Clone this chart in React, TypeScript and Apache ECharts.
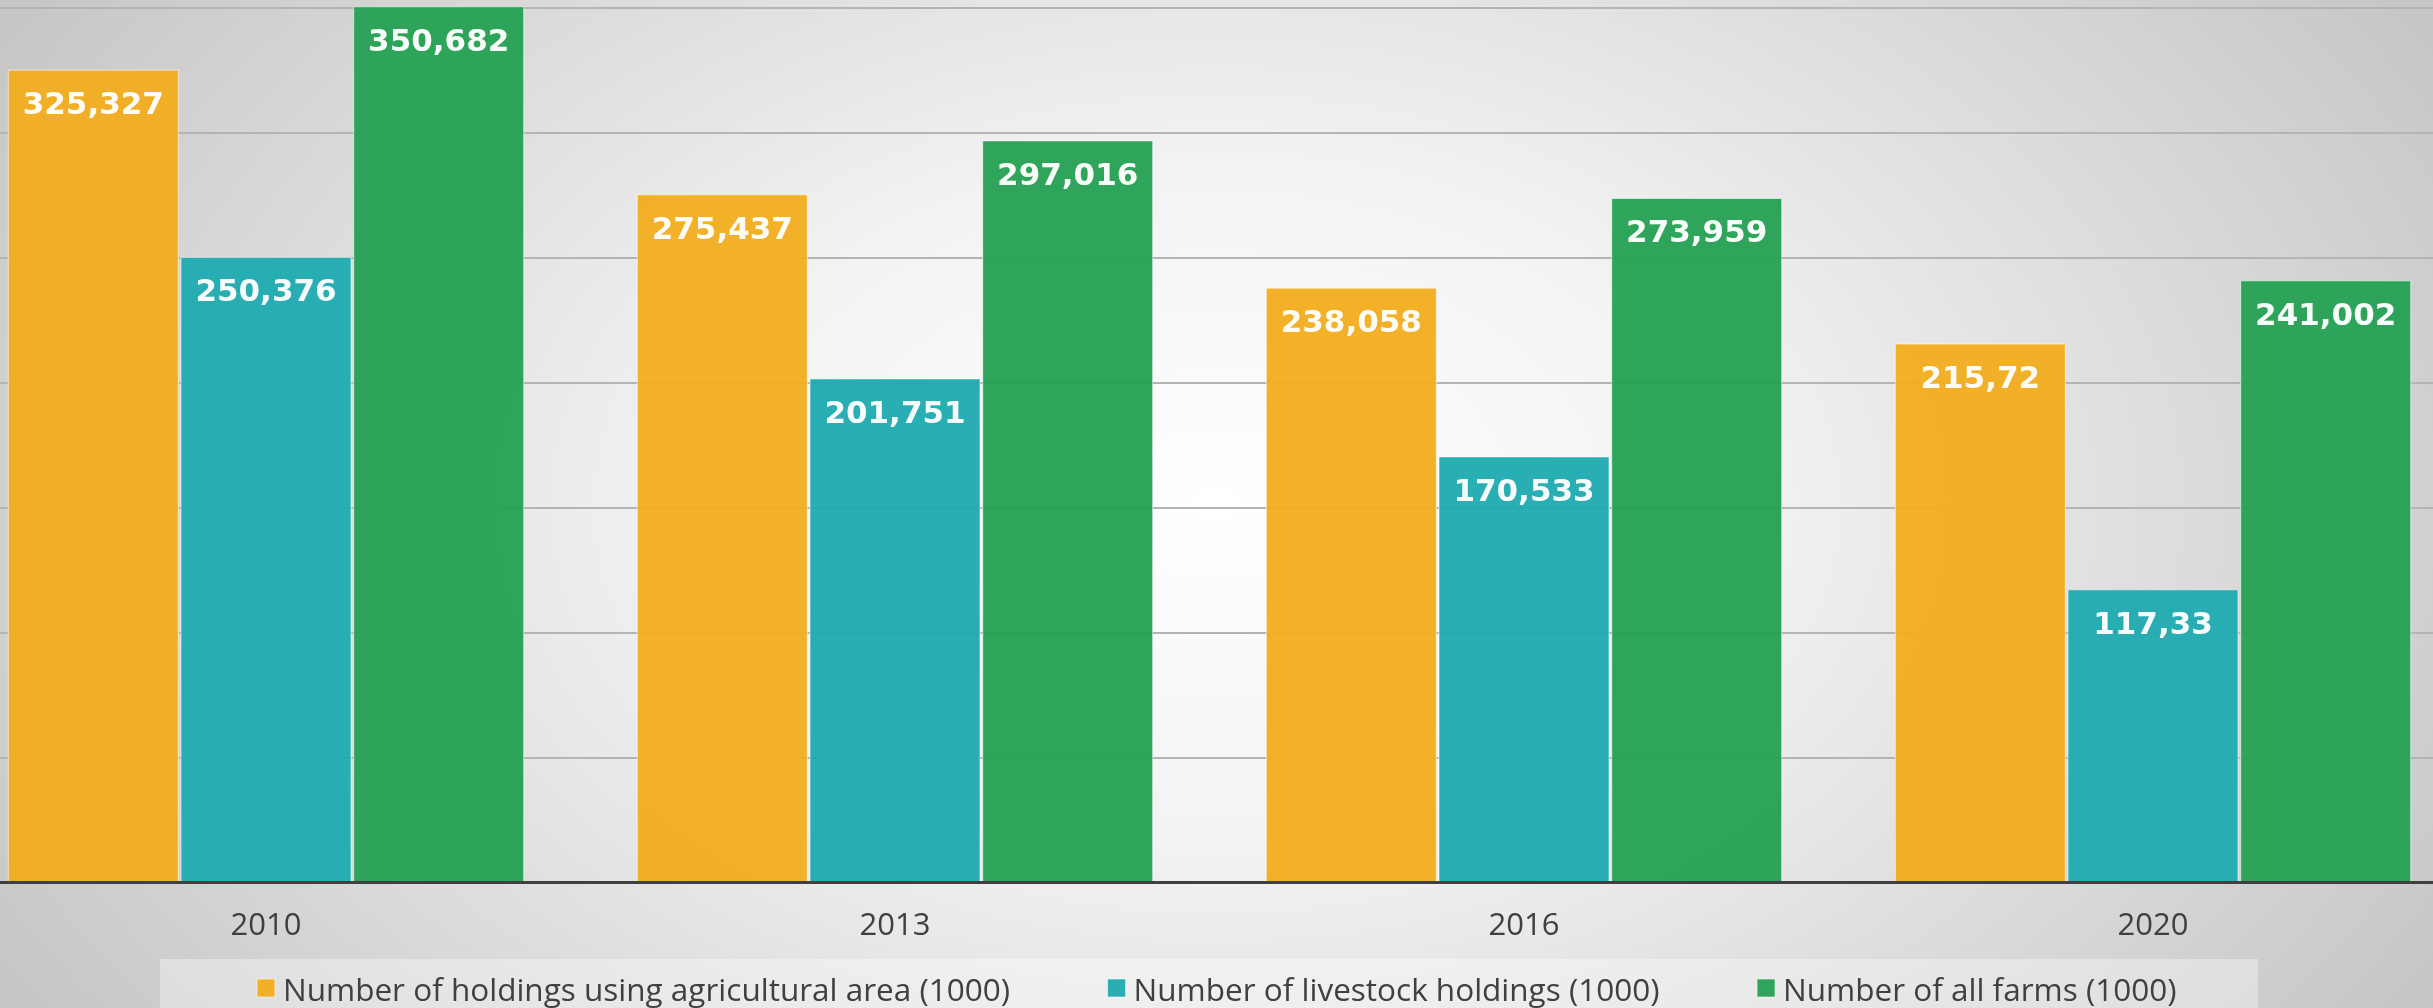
import React, { useEffect, useRef } from "react";
import * as echarts from "echarts";

const categories = ["2010", "2013", "2016", "2020"];
const seriesNames = [
  "Number of holdings using agricultural area (1000)",
  "Number of livestock holdings (1000)",
  "Number of all farms (1000)",
];
const agriculturalArea = [325.327, 275.437, 238.058, 215.72];
const livestock = [250.376, 201.751, 170.533, 117.33];
const allFarms = [350.682, 297.016, 273.959, 241.002];
const colors = ["#F1AE1F", "#1FABB0", "#27A155"];

const fmt = (v: number) => String(v).replace(".", ",");

export default function App() {
  const ref = useRef<HTMLDivElement>(null);
  useEffect(() => {
    if (!ref.current) return;
    const chart = echarts.init(ref.current, null, { renderer: "svg" });
    const mk = (name: string, data: number[], color: string) => ({
      name,
      type: "bar",
      data,
      barWidth: 171,
      barGap: "1%",
      clip: false,
      itemStyle: {
        color,
        opacity: 0.96,
        borderColor: "rgba(255,255,255,0.6)",
        borderWidth: 1,
      },
      label: {
        show: true,
        position: "insideTop",
        distance: 18,
        formatter: (p: any) => fmt(p.value),
        color: "#ffffff",
        fontFamily: "DejaVu Sans",
        fontWeight: "bold",
        fontSize: 31,
      },
    });
    chart.setOption({
      animation: false,
      backgroundColor: "transparent",
      grid: {
        left: -48.5,
        right: -34.5,
        top: 8,
        bottom: 125.5,
        containLabel: false,
        outerBoundsMode: "none",
      },
      graphic: [
        {
          type: "rect",
          left: 160,
          top: 959,
          shape: { width: 2098, height: 60 },
          style: { fill: "rgba(255,255,255,0.35)" },
          z: -1,
        },
      ],
      legend: {
        data: seriesNames,
        left: "center",
        top: 967,
        itemWidth: 18,
        itemHeight: 18,
        itemGap: 97,
        icon: "rect",
        itemStyle: { borderColor: "rgba(255,255,255,0.6)", borderWidth: 1 },
        textStyle: {
          fontFamily: "Open Sans",
          fontSize: 31.5,
          color: "#404040",
          padding: [0, 0, 0, 3],
        },
      },
      xAxis: {
        type: "category",
        data: categories,
        axisLine: { show: true, lineStyle: { color: "#404040", width: 3 } },
        axisTick: { show: false },
        axisLabel: {
          fontFamily: "Open Sans",
          fontSize: 31,
          color: "#404040",
          margin: 25,
        },
        z: 10,
      },
      yAxis: {
        type: "value",
        min: 0,
        max: 350,
        interval: 50,
        axisLabel: { show: false },
        axisLine: { show: false },
        axisTick: { show: false },
        splitLine: { show: true, lineStyle: { color: "#b4b4b4", width: 2 } },
      },
      series: [
        mk(seriesNames[0], agriculturalArea, colors[0]),
        mk(seriesNames[1], livestock, colors[1]),
        mk(seriesNames[2], allFarms, colors[2]),
      ],
    });
    return () => chart.dispose();
  }, []);
  return (
    <div
      style={{
        position: "fixed",
        left: 0,
        top: 0,
        width: 2433,
        height: 1008,
        background:
          "radial-gradient(ellipse 60% 95% at 50% 50%, #ffffff 0%, #f3f3f3 35%, #d6d6d6 75%, #c4c4c4 100%)",
      }}
    >
      <div ref={ref} style={{ width: 2433, height: 1008 }} />
    </div>
  );
}
